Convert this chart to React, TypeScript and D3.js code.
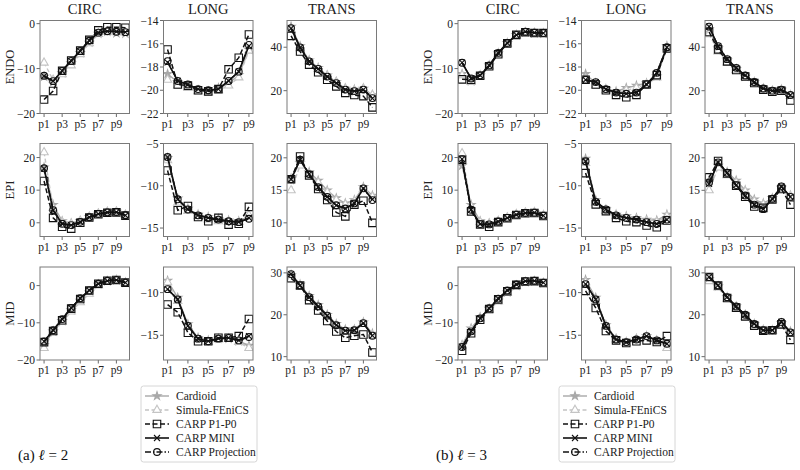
import * as d3 from "d3";

const SERIES = ["Cardioid", "Simula-FEniCS", "CARP P1-P0", "CARP MINI", "CARP Projection"];
const COLS = ["CIRC", "LONG", "TRANS"];
const ROWS = ["ENDO", "EPI", "MID"];
const X_TICK_LABELS = ["p1", "p3", "p5", "p7", "p9"];

// axis limits and ticks per [row][col]
const Y_DOMAINS = [
  [[-20, 0.7], [-22, -14], [9.5, 52.3]],
  [[-4.2, 24.3], [-16, -5], [7.9, 22.2]],
  [[-20, 5], [-17.9, -7], [9.2, 31.4]],
];
const Y_TICKS = [
  [[-20, -10, 0], [-22, -20, -18, -16, -14], [20, 40]],
  [[0, 10, 20], [-15, -10, -5], [10, 15, 20]],
  [[-20, -10, 0], [-15, -10], [10, 20, 30]],
];

// rows: Cardioid, Simula-FEniCS, CARP P1-P0, CARP MINI, CARP Projection
// ----- (a) l = 2 -----
const l2EndoCirc = [
  [-11.8, -13.0, -11.0, -8.8, -6.5, -4.2, -2.2, -1.8, -2.1, -2.2],
  [-8.7, -12.5, -11.3, -9.3, -6.8, -4.4, -2.3, -1.8, -1.9, -2.0],
  [-16.9, -15.0, -10.5, -8.2, -6.0, -3.6, -1.5, -0.8, -0.8, -0.9],
  [-11.7, -12.8, -10.5, -8.3, -6.1, -3.8, -2.0, -1.7, -1.8, -1.9],
  [-11.6, -12.8, -10.5, -8.3, -6.1, -3.8, -2.0, -1.7, -1.8, -1.9],
];
const l2EndoLong = [
  [-18.6, -19.3, -19.6, -20.0, -20.1, -19.8, -19.4, -18.7, -16.5],
  [-19.1, -19.6, -19.8, -20.1, -20.2, -20.0, -19.6, -18.9, -16.6],
  [-16.5, -19.5, -19.6, -20.0, -20.1, -19.9, -18.2, -17.2, -15.2],
  [-17.6, -19.2, -19.5, -19.9, -20.0, -19.9, -19.2, -18.4, -16.2],
  [-17.5, -19.2, -19.5, -19.9, -20.0, -19.9, -19.2, -18.4, -16.1],
];
const l2EndoTrans = [
  [49.5, 40.5, 34.0, 30.5, 27.0, 24.0, 21.0, 20.5, 21.0, 18.0],
  [48.0, 39.5, 33.5, 30.0, 27.0, 24.0, 21.0, 20.0, 21.0, 18.0],
  [45.2, 38.0, 32.0, 28.5, 25.0, 22.0, 19.0, 18.0, 17.5, 12.3],
  [48.7, 39.8, 33.5, 30.0, 26.5, 23.5, 20.5, 19.8, 20.5, 16.5],
  [48.8, 39.9, 33.5, 30.0, 26.5, 23.5, 20.5, 19.8, 20.5, 16.6],
];
const l2EpiCirc = [
  [17.0, 5.5, 0.5, -0.2, 0.5, 1.8, 2.8, 3.3, 3.4, 2.4],
  [21.6, 4.5, 0.2, -0.3, 0.6, 1.8, 2.8, 3.3, 3.4, 2.4],
  [12.8, 1.5, -1.2, -1.8, 0.0, 1.6, 2.6, 3.1, 3.2, 2.2],
  [16.6, 3.8, -0.3, -0.7, 0.3, 1.7, 2.7, 3.2, 3.3, 2.3],
  [16.7, 3.9, -0.3, -0.7, 0.3, 1.7, 2.7, 3.2, 3.3, 2.3],
];
const l2EpiLong = [
  [-6.7, -11.5, -12.7, -13.4, -13.7, -13.9, -14.1, -14.2, -13.6],
  [-7.0, -12.0, -13.0, -13.6, -14.0, -14.2, -14.3, -14.3, -13.5],
  [-8.2, -12.9, -12.4, -13.7, -14.2, -13.8, -14.6, -14.5, -12.5],
  [-6.6, -11.6, -12.8, -13.5, -13.8, -14.0, -14.2, -14.3, -13.8],
  [-6.6, -11.6, -12.8, -13.5, -13.8, -14.0, -14.2, -14.3, -13.9],
];
const l2EpiTrans = [
  [16.8, 19.2, 17.8, 16.5, 15.0, 13.8, 13.0, 13.5, 15.5, 14.2],
  [15.0, 18.8, 17.5, 16.2, 14.7, 13.5, 12.8, 13.3, 15.2, 14.0],
  [16.7, 20.2, 17.3, 15.2, 13.5, 11.6, 11.0, 12.8, 13.4, 10.0],
  [16.7, 19.7, 17.5, 15.5, 14.0, 12.7, 12.2, 13.0, 15.3, 13.6],
  [16.7, 19.7, 17.5, 15.5, 14.0, 12.7, 12.2, 13.0, 15.3, 13.5],
];
const l2MidCirc = [
  [-16.0, -12.3, -9.5, -6.6, -4.0, -1.8, 0.3, 1.2, 1.5, 0.8],
  [-16.8, -12.5, -9.8, -7.0, -4.5, -2.2, 0.0, 1.1, 1.4, 0.7],
  [-15.2, -12.2, -9.3, -6.2, -3.6, -1.3, 0.5, 1.3, 1.5, 0.8],
  [-15.0, -12.0, -9.0, -6.0, -3.4, -1.3, 0.5, 1.3, 1.5, 0.8],
  [-15.0, -12.0, -9.0, -6.0, -3.4, -1.3, 0.5, 1.3, 1.5, 0.8],
];
const l2MidLong = [
  [-8.6, -10.6, -13.7, -15.3, -15.6, -15.4, -15.4, -15.7, -16.2],
  [-8.8, -11.0, -14.0, -15.5, -15.8, -15.5, -15.4, -15.8, -16.5],
  [-11.4, -12.3, -14.7, -15.7, -15.7, -15.3, -15.3, -15.1, -13.1],
  [-9.6, -10.8, -13.9, -15.4, -15.7, -15.4, -15.3, -15.6, -15.1],
  [-9.6, -10.8, -13.9, -15.4, -15.7, -15.4, -15.3, -15.6, -15.2],
];
const l2MidTrans = [
  [29.5, 27.2, 24.5, 22.3, 20.0, 17.8, 16.5, 16.5, 18.2, 15.5],
  [28.5, 26.8, 24.0, 21.8, 19.5, 17.3, 16.0, 16.2, 17.8, 15.0],
  [28.7, 27.0, 23.5, 21.0, 18.5, 16.0, 14.5, 15.0, 15.3, 11.0],
  [29.7, 27.0, 24.2, 22.0, 19.8, 17.5, 16.2, 16.3, 18.0, 15.0],
  [29.7, 27.0, 24.2, 22.0, 19.8, 17.5, 16.2, 16.3, 18.0, 15.0],
];

// ----- (b) l = 3 -----
const l3EndoCirc = [
  [-11.2, -12.8, -11.5, -9.3, -6.6, -4.3, -2.5, -1.9, -2.1, -2.2],
  [-11.5, -13.0, -11.7, -9.5, -6.8, -4.5, -2.6, -2.0, -2.1, -2.2],
  [-12.4, -12.5, -11.6, -9.5, -6.8, -4.4, -2.5, -1.9, -2.1, -2.1],
  [-8.7, -12.2, -11.5, -9.3, -6.5, -4.3, -2.5, -1.8, -2.0, -2.1],
  [-8.7, -12.2, -11.5, -9.3, -6.5, -4.3, -2.5, -1.8, -2.0, -2.1],
];
const l3EndoLong = [
  [-18.6, -19.4, -19.9, -20.1, -19.8, -19.6, -19.4, -18.8, -16.2],
  [-19.0, -19.6, -20.0, -20.2, -20.0, -19.8, -19.5, -18.9, -16.3],
  [-19.1, -19.5, -20.0, -20.4, -20.6, -20.4, -19.5, -18.7, -16.4],
  [-19.1, -19.3, -19.9, -20.2, -20.3, -20.2, -19.5, -18.5, -16.3],
  [-19.1, -19.3, -19.9, -20.2, -20.3, -20.2, -19.5, -18.5, -16.3],
];
const l3EndoTrans = [
  [48.5, 39.5, 34.0, 30.0, 26.5, 24.0, 21.0, 20.0, 20.5, 18.0],
  [46.0, 38.0, 33.0, 29.5, 26.5, 23.5, 20.5, 19.5, 20.0, 17.5],
  [47.0, 39.0, 33.5, 29.5, 26.5, 23.5, 20.5, 19.5, 20.0, 15.5],
  [49.5, 40.5, 34.5, 30.5, 27.0, 24.0, 21.0, 20.0, 20.5, 18.0],
  [49.5, 40.5, 34.5, 30.5, 27.0, 24.0, 21.0, 20.0, 20.5, 18.0],
];
const l3EpiCirc = [
  [17.5, 5.5, 0.5, -0.2, 0.5, 1.6, 2.6, 3.1, 3.2, 2.3],
  [21.3, 5.0, 0.2, -0.3, 0.5, 1.6, 2.6, 3.1, 3.2, 2.3],
  [19.3, 3.5, -0.5, -1.2, 0.2, 1.4, 2.4, 2.9, 3.0, 2.1],
  [19.5, 4.0, -0.4, -0.5, 0.4, 1.5, 2.5, 3.0, 3.1, 2.2],
  [19.5, 4.0, -0.4, -0.5, 0.4, 1.5, 2.5, 3.0, 3.1, 2.2],
];
const l3EpiLong = [
  [-6.8, -11.7, -12.8, -13.4, -13.6, -13.8, -14.0, -14.1, -13.4],
  [-7.3, -12.0, -13.0, -13.6, -13.8, -14.0, -14.2, -14.3, -13.6],
  [-8.5, -12.2, -13.0, -13.8, -14.2, -14.3, -14.7, -14.9, -14.1],
  [-7.1, -11.9, -12.8, -13.5, -13.8, -14.0, -14.3, -14.5, -14.0],
  [-7.1, -11.9, -12.8, -13.5, -13.8, -14.0, -14.3, -14.5, -14.0],
];
const l3EpiTrans = [
  [16.5, 18.8, 17.8, 16.5, 15.0, 13.6, 13.0, 13.8, 15.4, 14.2],
  [15.0, 18.5, 17.3, 16.2, 14.8, 13.3, 12.8, 13.6, 15.2, 14.1],
  [17.0, 19.5, 17.6, 15.7, 14.0, 12.5, 12.3, 13.6, 15.2, 12.8],
  [16.0, 19.3, 17.7, 15.8, 14.2, 12.8, 12.1, 13.7, 15.6, 14.0],
  [16.2, 19.3, 17.7, 15.8, 14.2, 12.8, 12.1, 13.7, 15.6, 14.0],
];
const l3MidCirc = [
  [-16.0, -11.5, -8.5, -6.2, -4.0, -1.8, 0.0, 1.0, 1.2, 0.7],
  [-16.2, -11.8, -8.8, -6.5, -4.3, -2.0, -0.2, 0.9, 1.1, 0.6],
  [-17.5, -12.8, -9.2, -6.3, -3.7, -1.5, 0.2, 1.1, 1.2, 0.7],
  [-16.5, -12.3, -8.8, -6.1, -3.5, -1.3, 0.3, 1.2, 1.3, 0.8],
  [-16.5, -12.3, -8.8, -6.1, -3.5, -1.3, 0.3, 1.2, 1.3, 0.8],
];
const l3MidLong = [
  [-8.5, -10.6, -13.8, -15.4, -15.8, -15.4, -15.1, -15.6, -16.3],
  [-8.8, -11.0, -14.0, -15.5, -15.9, -15.5, -15.2, -15.7, -16.5],
  [-9.8, -11.8, -14.5, -15.6, -15.9, -15.7, -15.6, -15.8, -15.1],
  [-9.0, -10.8, -13.9, -15.5, -15.8, -15.5, -15.1, -15.6, -16.0],
  [-9.0, -10.8, -13.9, -15.5, -15.8, -15.5, -15.1, -15.6, -16.0],
];
const l3MidTrans = [
  [28.5, 26.8, 24.2, 22.0, 20.0, 17.8, 16.4, 16.3, 18.0, 16.0],
  [28.0, 26.5, 23.8, 21.5, 19.5, 17.5, 16.2, 16.2, 17.5, 15.5],
  [29.0, 27.0, 24.0, 21.7, 19.6, 17.4, 16.2, 16.3, 17.7, 14.0],
  [29.0, 27.0, 24.2, 22.0, 20.0, 17.8, 16.3, 16.3, 18.3, 15.8],
  [29.0, 27.0, 24.2, 22.0, 20.0, 17.8, 16.3, 16.3, 18.3, 15.8],
];

const L2_PANELS = [
  [l2EndoCirc, l2EndoLong, l2EndoTrans],
  [l2EpiCirc, l2EpiLong, l2EpiTrans],
  [l2MidCirc, l2MidLong, l2MidTrans],
];
const L3_PANELS = [
  [l3EndoCirc, l3EndoLong, l3EndoTrans],
  [l3EpiCirc, l3EpiLong, l3EpiTrans],
  [l3MidCirc, l3MidLong, l3MidTrans],
];

const FONT = "Liberation Serif, DejaVu Serif, serif";

const symX = {
  draw(ctx: any, size: number) {
    const r = Math.sqrt(size) / 2;
    ctx.moveTo(-r, -r);
    ctx.lineTo(r, r);
    ctx.moveTo(r, -r);
    ctx.lineTo(-r, r);
  },
};

const STYLES = [
  { color: "#a8a8a8", dash: undefined, sym: d3.symbolStar, size: 20, fill: "#a8a8a8", width: 1.4 },
  { color: "#c4c4c4", dash: "4,2.5", sym: d3.symbolTriangle, size: 30, fill: "white", width: 1.4 },
  { color: "#111", dash: "5,2.5", sym: d3.symbolSquare, size: 56, fill: "none", width: 1.5 },
  { color: "#111", dash: undefined, sym: symX, size: 36, fill: "none", width: 1.6 },
  { color: "#111", dash: "6,2,1.5,2", sym: d3.symbolCircle, size: 36, fill: "none", width: 1.5 },
];

const PANEL_W = 89.5;
const PANEL_H = 93;
const COL_X = [40, 163.5, 287];
const ROW_Y = [20.5, 143.5, 267];

function fmt(v: number) {
  return v < 0 ? "\u2212" + Math.abs(v) : String(v);
}

const txt = { fontFamily: FONT };

function Panel({ x0, y0, data, yDomain, yTicks }: { x0: number; y0: number; data: number[][]; yDomain: number[]; yTicks: number[] }) {
  const n = data[0].length;
  const pad = 0.05 * (n - 1);
  const xs = d3.scaleLinear().domain([-pad, n - 1 + pad]).range([x0, x0 + PANEL_W]);
  const ys = d3.scaleLinear().domain(yDomain).range([y0 + PANEL_H, y0]);
  const line = d3
    .line<number>()
    .x((_, i) => xs(i))
    .y((d) => ys(d));

  return (
    <g>
      <defs>
        <clipPath id={`clip-${x0}-${y0}`}>
          <rect x={x0} y={y0} width={PANEL_W} height={PANEL_H} />
        </clipPath>
      </defs>
      {yTicks.map((t) => (
        <g key={t}>
          <line x1={x0} x2={x0 - 3.5} y1={ys(t)} y2={ys(t)} stroke="#444" strokeWidth={0.8} />
          <text x={x0 - 5} y={ys(t)} dy="0.35em" textAnchor="end" fontSize={11.5} fill="#222" style={txt}>
            {fmt(t)}
          </text>
        </g>
      ))}
      {X_TICK_LABELS.map((lab, k) => (
        <g key={lab}>
          <line x1={xs(k * 2)} x2={xs(k * 2)} y1={y0 + PANEL_H} y2={y0 + PANEL_H + 3.5} stroke="#444" strokeWidth={0.8} />
          <text x={xs(k * 2)} y={y0 + PANEL_H + 14} textAnchor="middle" fontSize={11.5} fill="#222" style={txt}>
            {lab}
          </text>
        </g>
      ))}
      <g clipPath={`url(#clip-${x0}-${y0})`}>
        {data.map((vals, s) => {
          const st = STYLES[s];
          const mk = d3.symbol().type(st.sym as any).size(st.size)() as string;
          return (
            <g key={s}>
              <path d={line(vals) as string} fill="none" stroke={st.color} strokeWidth={st.width} strokeDasharray={st.dash} />
              {vals.map((v, i) => (
                <path
                  key={i}
                  d={mk}
                  transform={`translate(${xs(i)},${ys(v)})`}
                  fill={st.fill}
                  stroke={st.color}
                  strokeWidth={1.1}
                />
              ))}
            </g>
          );
        })}
      </g>
      <rect x={x0} y={y0} width={PANEL_W} height={PANEL_H} fill="none" stroke="#7a7a7a" strokeWidth={1} />
    </g>
  );
}

function Legend({ x, y }: { x: number; y: number }) {
  return (
    <g transform={`translate(${x},${y})`}>
      <rect x={0} y={0} width={116} height={76} rx={2.5} fill="white" stroke="#d6d6d6" strokeWidth={1} />
      {SERIES.map((name, s) => {
        const st = STYLES[s];
        const mk = d3.symbol().type(st.sym as any).size(st.size)() as string;
        const yy = 10 + s * 14;
        return (
          <g key={name}>
            <line x1={4} x2={28} y1={yy} y2={yy} stroke={st.color} strokeWidth={st.width} strokeDasharray={st.dash} />
            <path d={mk} transform={`translate(16,${yy})`} fill={st.fill} stroke={st.color} strokeWidth={1.1} />
            <text x={35} y={yy} dy="0.35em" fontSize={11.5} fill="#222" style={txt}>
              {name}
            </text>
          </g>
        );
      })}
    </g>
  );
}

function Half({ dx, panels, caption, ell }: { dx: number; panels: number[][][][]; caption: string; ell: string }) {
  return (
    <g>
      {COLS.map((c, j) => (
        <text key={c} x={dx + COL_X[j] + PANEL_W / 2} y={14} textAnchor="middle" fontSize={14.5} fill="#222" style={txt}>
          {c}
        </text>
      ))}
      {ROWS.map((r, i) => (
        <text
          key={r}
          transform={`translate(${dx + 14},${ROW_Y[i] + PANEL_H / 2}) rotate(-90)`}
          textAnchor="middle"
          fontSize={12.5}
          fill="#222"
          style={txt}
        >
          {r}
        </text>
      ))}
      {panels.map((row, i) =>
        row.map((data, j) => (
          <Panel
            key={`${i}-${j}`}
            x0={dx + COL_X[j]}
            y0={ROW_Y[i]}
            data={data}
            yDomain={Y_DOMAINS[i][j]}
            yTicks={Y_TICKS[i][j]}
          />
        ))
      )}
      <Legend x={dx + 141} y={386} />
      <text x={dx + 18} y={460} fontSize={15} fill="#111" style={txt}>
        {caption} <tspan fontStyle="italic">{"\u2113"}</tspan> = {ell}
      </text>
    </g>
  );
}

export default function App() {
  return (
    <svg width={800} height={470} style={{ position: "absolute", left: 0, top: 0, background: "white" }}>
      <Half dx={0} panels={L2_PANELS} caption="(a)" ell="2" />
      <Half dx={418} panels={L3_PANELS} caption="(b)" ell="3" />
    </svg>
  );
}
